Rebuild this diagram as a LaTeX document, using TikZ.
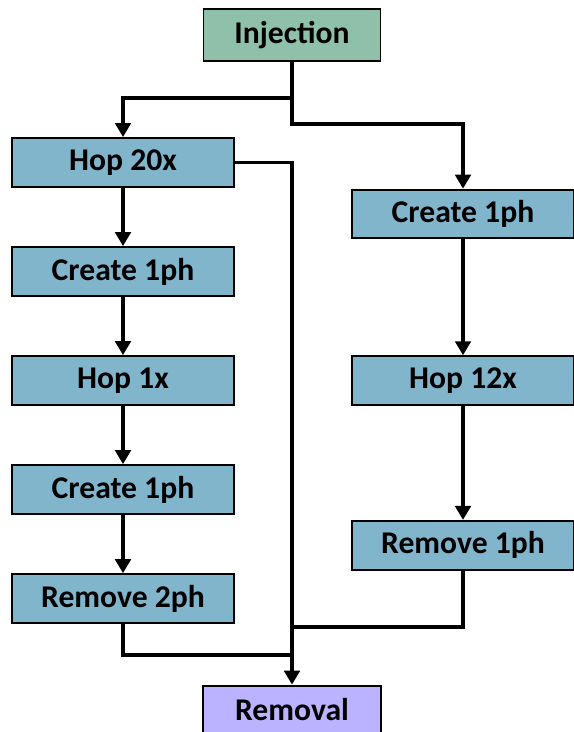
\documentclass[tikz,border=0pt]{standalone}
\usepackage{fontspec}
\setmainfont{Carlito}
\usetikzlibrary{arrows.meta, positioning, calc}

\definecolor{injgreen}{RGB}{143,192,169}
\definecolor{stepblue}{RGB}{129,181,204}
\definecolor{remlilac}{RGB}{187,179,255}

\begin{document}
\begin{tikzpicture}[
    box/.style={draw, line width=1.3pt, minimum width=5.55cm, minimum height=1.22cm,
                align=center, font=\bfseries\fontsize{22.5}{26}\selectfont, fill=stepblue},
    line/.style={line width=2.6pt},
    arrow/.style={line width=2.6pt, -{Triangle[length=10pt, width=11pt]}},
    node distance=1.46cm,
]
\useasboundingbox (0,0) rectangle (14.35,-18.3);
\node[box, fill=injgreen, minimum width=4.425cm, minimum height=1.3cm] (inj) at (7.3,-0.875) {Injection};
% left branch
\node[box] (hop20) at (3.075,-4.06) {Hop 20x};
\node[box, below=of hop20] (crA) {Create 1ph};
\node[box, below=of crA] (hop1) {Hop 1x};
\node[box, below=of hop1] (crB) {Create 1ph};
\node[box, below=of crB] (rm2) {Remove 2ph};
% right branch
\node[box] (crR) at (11.575,-5.35) {Create 1ph};
\node[box, below=2.9cm of crR] (hop12) {Hop 12x};
\node[box, below=2.85cm of hop12] (rm1) {Remove 1ph};
\node[box, fill=remlilac, minimum width=4.45cm, minimum height=1.22cm] (rem) at (7.3,-17.75) {Removal};

\coordinate (split) at ($(inj.south)+(0,-0.9)$);
\draw[line] (inj.south) -- (split);
\draw[arrow] (split) -| (hop20.north);
\draw[arrow] (split) -- ++(0,-0.65) -| (crR.north);
\draw[arrow] (hop20) -- (crA);
\draw[arrow] (crA) -- (hop1);
\draw[arrow] (hop1) -- (crB);
\draw[arrow] (crB) -- (rm2);
\draw[arrow] (crR) -- (hop12);
\draw[arrow] (hop12) -- (rm1);
\draw[arrow] (hop20.east) -| (rem.north);
\draw[line] (rm2.south) |- ($(rem.north)+(0,0.75)$);
\draw[line] (rm1.south) |- ($(rem.north)+(0,1.45)$);
\end{tikzpicture}
\end{document}
